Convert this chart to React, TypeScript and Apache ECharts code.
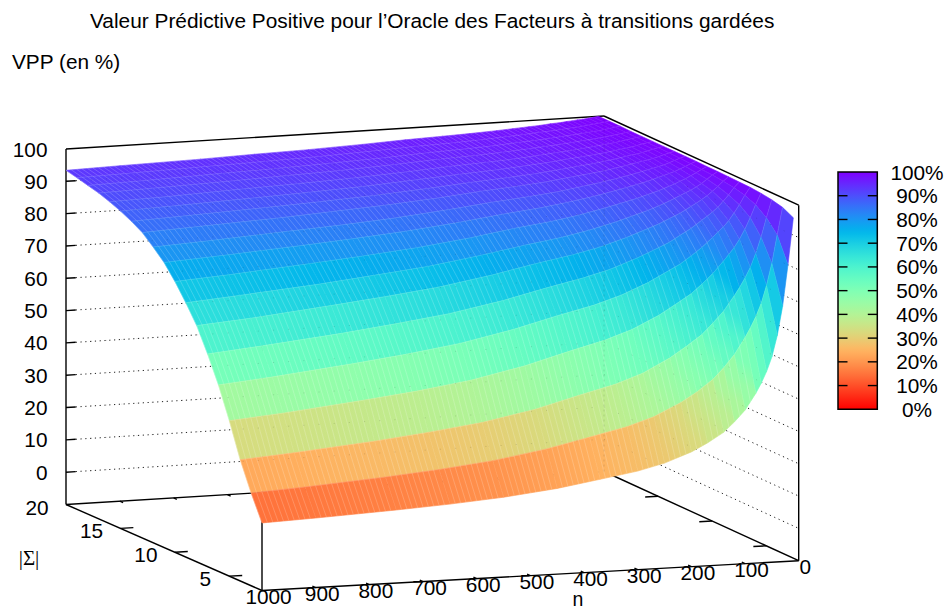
import React, { useEffect, useRef } from "react";
import * as echarts from "echarts";

const titleText = "Valeur Prédictive Positive pour l’Oracle des Facteurs à transitions gardées";
const zTitle = "VPP (en %)";
const sTitle = "|Σ|";
const nTitle = "n";

const zTicks = [0, 10, 20, 30, 40, 50, 60, 70, 80, 90, 100];
const nTicks = [0, 100, 200, 300, 400, 500, 600, 700, 800, 900, 1000];
const sTicks = [5, 10, 15, 20];
const barTicks = [0, 10, 20, 30, 40, 50, 60, 70, 80, 90, 100];

const nValues = [10, 20, 30, 40, 50, 60, 70, 80, 100, 120, 140, 170, 200, 250, 300, 370, 450, 550, 650, 750, 900, 1000];
const sValues = [2, 3, 4, 5, 6, 7, 8, 9, 10, 11, 12, 13, 14, 15, 16, 17, 18, 19, 20];

const vppS2 = [96.2, 81.7, 69, 60, 53.5, 49, 45.5, 42.5, 37.5, 34, 31, 28, 25.5, 22.5, 20.5, 18.6, 16.5, 14.7, 13.5, 12.6, 11.5, 10.9];
const vppS3 = [97.9, 89.4, 80.7, 73.9, 68.4, 64.4, 61.1, 58.2, 53.1, 49.2, 45.8, 42.2, 39.2, 35.3, 32.7, 30.1, 27.2, 24.5, 22.7, 21.3, 19.6, 18.7];
const vppS4 = [98.7, 93.2, 87.3, 82.3, 78.1, 74.9, 72.1, 69.6, 65.0, 61.5, 58.2, 54.7, 51.5, 47.3, 44.4, 41.5, 38.0, 34.8, 32.7, 30.9, 28.7, 27.5];
const vppS5 = [99.2, 95.7, 91.8, 88.3, 85.3, 82.8, 80.8, 78.8, 75.1, 72.1, 69.3, 66.2, 63.2, 59.3, 56.5, 53.5, 49.9, 46.4, 44.0, 42.1, 39.5, 38.1];
const vppS6 = [99.5, 97.1, 94.3, 91.8, 89.5, 87.7, 86.2, 84.6, 81.7, 79.3, 77.0, 74.4, 71.8, 68.4, 65.8, 63.1, 59.7, 56.3, 53.9, 51.9, 49.2, 47.7];
const vppS7 = [99.6, 97.9, 95.8, 93.9, 92.2, 90.8, 89.6, 88.4, 86.1, 84.2, 82.2, 80.0, 77.9, 74.9, 72.7, 70.2, 67.1, 64.0, 61.8, 59.8, 57.3, 55.8];
const vppS8 = [99.7, 98.4, 96.9, 95.5, 94.2, 93.1, 92.1, 91.2, 89.3, 87.8, 86.3, 84.5, 82.7, 80.2, 78.3, 76.2, 73.5, 70.7, 68.7, 66.9, 64.4, 63.1];
const vppS9 = [99.8, 98.8, 97.6, 96.4, 95.4, 94.5, 93.8, 93.0, 91.5, 90.2, 89.0, 87.5, 86.0, 83.9, 82.2, 80.4, 78.1, 75.6, 73.8, 72.1, 70.0, 68.7];
const vppS10 = [99.8, 99.0, 98.1, 97.2, 96.4, 95.7, 95.0, 94.4, 93.2, 92.2, 91.2, 90.0, 88.8, 87.0, 85.6, 84.1, 82.0, 79.9, 78.3, 76.9, 74.9, 73.8];
const vppS11 = [99.9, 99.2, 98.5, 97.8, 97.1, 96.6, 96.1, 95.6, 94.6, 93.8, 93.0, 91.9, 90.9, 89.5, 88.3, 87.0, 85.3, 83.5, 82.1, 80.9, 79.2, 78.2];
const vppS12 = [99.9, 99.4, 98.8, 98.2, 97.6, 97.2, 96.8, 96.4, 95.6, 94.9, 94.2, 93.3, 92.5, 91.2, 90.3, 89.2, 87.7, 86.1, 84.9, 83.9, 82.4, 81.5];
const vppS13 = [99.9, 99.5, 99.0, 98.5, 98.1, 97.7, 97.4, 97.1, 96.4, 95.8, 95.2, 94.5, 93.9, 92.8, 92.0, 91.1, 89.8, 88.5, 87.5, 86.5, 85.3, 84.5];
const vppS14 = [99.9, 99.6, 99.2, 98.8, 98.4, 98.0, 97.8, 97.5, 96.9, 96.4, 95.9, 95.3, 94.7, 93.8, 93.1, 92.3, 91.2, 90.0, 89.1, 88.3, 87.2, 86.5];
const vppS15 = [99.9, 99.6, 99.3, 98.9, 98.6, 98.3, 98.1, 97.8, 97.3, 96.9, 96.5, 96.0, 95.4, 94.7, 94.0, 93.3, 92.4, 91.3, 90.5, 89.8, 88.8, 88.2];
const vppS16 = [99.9, 99.7, 99.4, 99.1, 98.8, 98.5, 98.3, 98.1, 97.7, 97.3, 96.9, 96.5, 96.0, 95.3, 94.8, 94.2, 93.3, 92.4, 91.7, 91.1, 90.1, 89.6];
const vppS17 = [99.9, 99.7, 99.4, 99.2, 98.9, 98.7, 98.5, 98.3, 98.0, 97.6, 97.3, 96.9, 96.5, 95.9, 95.4, 94.9, 94.1, 93.3, 92.7, 92.1, 91.3, 90.8];
const vppS18 = [100, 99.8, 99.5, 99.3, 99.0, 98.9, 98.7, 98.5, 98.2, 97.9, 97.6, 97.2, 96.9, 96.3, 95.9, 95.4, 94.7, 94.0, 93.4, 92.9, 92.1, 91.7];
const vppS19 = [100, 99.8, 99.6, 99.4, 99.2, 99.0, 98.8, 98.7, 98.4, 98.1, 97.9, 97.5, 97.2, 96.7, 96.3, 95.9, 95.3, 94.6, 94.1, 93.7, 93.0, 92.6];
const vppS20 = [100, 99.8, 99.6, 99.4, 99.3, 99.1, 99.0, 98.8, 98.6, 98.3, 98.1, 97.8, 97.5, 97.1, 96.8, 96.4, 95.8, 95.2, 94.8, 94.3, 93.8, 93.4];
const vppRows = [vppS2, vppS3, vppS4, vppS5, vppS6, vppS7, vppS8, vppS9, vppS10, vppS11, vppS12, vppS13, vppS14, vppS15, vppS16, vppS17, vppS18, vppS19, vppS20];

const FONT = '"Liberation Sans", Arial, sans-serif';

// Oblique box of the 3D plot: screen position of the four base corners
const cornerC = [798.7, 560.7]; // n=0, s=2
const cornerB = [262, 590.5]; // n=1000, s=2
const cornerA = [66, 504.5]; // n=1000, s=20
const cornerD = [604, 471.5]; // n=0, s=20
const zUnit = 355.5 / 110;

function project(n: number, s: number, z: number): number[] {
  const u = echarts.number.linearMap(n, [0, 1000], [0, 1], false);
  const v = echarts.number.linearMap(s, [2, 20], [0, 1], false);
  const bl = (k: number) =>
    (1 - u) * (1 - v) * cornerC[k] + u * (1 - v) * cornerB[k] + u * v * cornerA[k] + (1 - u) * v * cornerD[k];
  return [bl(0), bl(1) - zUnit * (z + 10)];
}

function palette(z: number): string {
  const x = 1 - Math.min(100, Math.max(0, z)) / 100;
  const r = Math.min(1, Math.abs(2 * x - 0.5));
  const g = Math.sin(Math.PI * x);
  const b = Math.cos((Math.PI * x) / 2);
  return `rgb(${Math.round(r * 255)},${Math.round(g * 255)},${Math.round(b * 255)})`;
}

const seg = (a: number[], b: number[], style: any) => ({
  type: "line",
  shape: { x1: a[0], y1: a[1], x2: b[0], y2: b[1] },
  style,
  silent: true,
});

const axisStyle = { stroke: "#000", lineWidth: 1.4 };
const gridStyle = { stroke: "#222", lineWidth: 1, lineDash: [1.2, 3.6] };

function gridLines(style: any) {
  const out: any[] = [];
  zTicks
    .filter((z) => z < 100)
    .forEach((z) => {
      out.push(seg(project(982, 20, z), project(0, 20, z), style));
      out.push(seg(project(0, 20, z), project(0, 2, z), style));
    });
  return out;
}

function backChildren() {
  const out: any[] = gridLines(gridStyle);
  const lo = -10;
  const hi = 100;
  out.push(seg(project(1000, 20, lo), project(1000, 20, hi), axisStyle));
  out.push(seg(project(0, 2, lo), project(0, 2, hi), axisStyle));
  out.push(seg(project(1000, 2, lo), project(1000, 2, hi), axisStyle));
  out.push(seg(project(1000, 20, hi), project(0, 20, hi), axisStyle));
  out.push(seg(project(0, 20, hi), project(0, 2, hi), axisStyle));
  out.push(seg(project(1000, 20, lo), project(0, 20, lo), axisStyle));
  out.push(seg(project(0, 20, lo), project(0, 2, lo), axisStyle));
  out.push(seg(project(1000, 20, lo), project(1000, 2, lo), axisStyle));
  out.push(seg(project(1000, 2, lo), project(0, 2, lo), axisStyle));
  zTicks.forEach((z) => {
    if (z < 100) out.push(seg(project(1000, 20, z), project(982, 20, z), axisStyle));
  });
  sTicks
    .filter((s) => s < 20)
    .forEach((s) => {
      out.push(seg(project(1000, s, lo), project(976, s, lo), axisStyle));
      out.push(seg(project(0, s, lo), project(24, s, lo), axisStyle));
    });
  nTicks
    .filter((n) => n > 0 && n < 1000)
    .forEach((n) => {
      out.push(seg(project(n, 20, lo), project(n, 19.7, lo), axisStyle));
      out.push(seg(project(n, 2, lo), project(n, 2.3, lo), axisStyle));
    });
  return out;
}

function cellChildren(i: number, j: number) {
  const n0 = nValues[i];
  const n1 = nValues[i + 1];
  const s0 = sValues[j];
  const s1 = sValues[j + 1];
  const a = vppRows[j][i];
  const b = vppRows[j][i + 1];
  const c = vppRows[j + 1][i + 1];
  const d = vppRows[j + 1][i];
  const pa = project(n0, s0, a);
  const pb = project(n1, s0, b);
  const pc = project(n1, s1, c);
  const pd = project(n0, s1, d);
  const from = [(pa[0] + pd[0]) / 2, (pa[1] + pd[1]) / 2];
  const to = [(pb[0] + pc[0]) / 2, (pb[1] + pc[1]) / 2];
  // Cells one grid step wide are flat-coloured, as pm3d does; wider table cells shade across their width
  const fill: any =
    n1 - n0 <= 10
      ? palette((a + b + c + d) / 4)
      : new echarts.graphic.LinearGradient(
          from[0],
          from[1],
          to[0],
          to[1],
          [
            { offset: 0, color: palette((a + d) / 2) },
            { offset: 1, color: palette((b + c) / 2) },
          ],
          true
        );
  const out: any[] = [
    {
      type: "polygon",
      shape: { points: [pa, pb, pc, pd] },
      style: { fill, stroke: fill, lineWidth: 0.6 },
      silent: true,
    },
  ];
  const seam = { stroke: "rgba(255,255,255,0.24)", lineWidth: 0.8 };
  for (let n = n0 + 10; n <= n1; n += 10) {
    const t = (n - n0) / (n1 - n0);
    out.push(seg(project(n, s0, a + (b - a) * t), project(n, s1, d + (c - d) * t), seam));
  }
  out.push(seg(pd, pc, { stroke: "rgba(255,255,255,0.14)", lineWidth: 0.8 }));
  return out;
}

const cells: number[][] = [];
for (let j = sValues.length - 2; j >= 0; j--) {
  for (let i = 0; i < nValues.length - 1; i++) cells.push([i, j]);
}

function textEl(text: string, x: number, y: number, align: string, extra: any = {}) {
  return {
    type: "text",
    x,
    y,
    silent: true,
    style: {
      text,
      fill: "#000",
      font: `20.8px ${FONT}`,
      align,
      verticalAlign: "middle",
      ...extra,
    },
  };
}

function labelElements() {
  const out: any[] = [];
  zTicks.forEach((z) => {
    const p = project(1000, 20, z);
    out.push(textEl(String(z), 47.5, p[1], "right"));
  });
  nTicks.forEach((n) => {
    const p = project(n, 2, -10);
    out.push(textEl(String(n), p[0] + 6.5, p[1] + 6, "center"));
  });
  sTicks.forEach((s) => {
    const p = project(1000, s, -10);
    out.push(textEl(String(s), p[0] - 29 + (s === 5 ? 5 : 0), p[1] + 2.5, "center"));
  });
  out.push(textEl(zTitle, 12, 61, "left"));
  out.push(textEl(sTitle, 29, 558, "center", { font: `21px "Liberation Serif", serif` }));
  out.push(textEl(nTitle, 578, 599, "center", { font: `19.5px ${FONT}` }));

  const barX = 838;
  const barW = 39.3;
  const barTop = 172;
  const barH = 237.3;
  const stops = [];
  for (let k = 0; k <= 50; k++) stops.push({ offset: k / 50, color: palette(100 - k * 2) });
  out.push({
    type: "rect",
    silent: true,
    shape: { x: barX, y: barTop, width: barW, height: barH },
    style: { fill: new echarts.graphic.LinearGradient(0, 0, 0, 1, stops), stroke: "#000", lineWidth: 1.5 },
  });
  barTicks.forEach((t) => {
    const y = barTop + (barH * (100 - t)) / 100;
    if (t > 0 && t < 100) {
      out.push({ type: "line", silent: true, shape: { x1: barX, y1: y, x2: barX + 9.5, y2: y }, style: axisStyle });
      out.push({ type: "line", silent: true, shape: { x1: barX + barW - 9.5, y1: y, x2: barX + barW, y2: y }, style: axisStyle });
    }
    out.push(textEl(`${t}%`, 917, y, "center"));
  });
  return out;
}

export default function App() {
  const ref = useRef<HTMLDivElement>(null);
  useEffect(() => {
    const chart = echarts.init(ref.current!, undefined, { renderer: "svg" });
    chart.setOption({
      animation: false,
      backgroundColor: "#fff",
      title: {
        text: titleText,
        left: 85,
        top: 5,
        textStyle: { fontFamily: FONT, fontSize: 20.85, fontWeight: "normal", color: "#000" },
      },
      graphic: { elements: labelElements() },
      series: [
        {
          type: "custom",
          coordinateSystem: "none",
          silent: true,
          z: 1,
          data: [[0]],
          renderItem: () => ({ type: "group", children: backChildren() }),
        },
        {
          type: "custom",
          coordinateSystem: "none",
          silent: true,
          z: 2,
          data: cells,
          renderItem: (_p: any, api: any) => ({
            type: "group",
            children: cellChildren(api.value(0), api.value(1)),
          }),
        },
        {
          type: "custom",
          coordinateSystem: "none",
          silent: true,
          z: 3,
          data: [[0]],
          renderItem: () => ({
            type: "group",
            children: [
              ...gridLines({ stroke: "rgba(0,0,0,0.12)", lineWidth: 1, lineDash: [1.2, 14] }),
              seg(project(0, 20, -10), project(0, 20, 100), { stroke: "rgba(0,0,0,0.12)", lineWidth: 1, lineDash: [2, 3] }),
            ],
          }),
        },
      ],
    });
    return () => chart.dispose();
  }, []);
  return <div ref={ref} style={{ position: "fixed", left: 0, top: 0, width: 952, height: 609 }} />;
}
